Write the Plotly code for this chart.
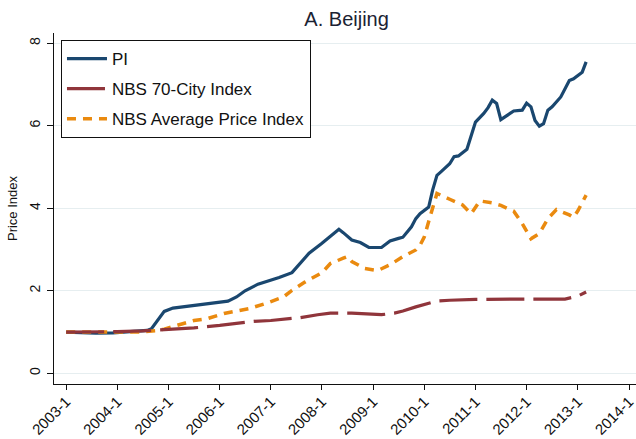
import plotly.graph_objects as go

# ---- data ----
pi_dates = ["2003-01", "2003-04", "2003-08", "2003-12", "2004-03", "2004-06", "2004-08", "2004-09",
            "2004-10", "2004-11", "2004-12", "2005-02", "2005-05", "2005-08", "2005-11", "2006-03",
            "2006-05", "2006-07", "2006-10", "2007-01", "2007-03", "2007-06", "2007-08", "2007-10",
            "2008-01", "2008-03", "2008-05", "2008-06", "2008-08", "2008-10", "2008-12", "2009-03",
            "2009-05", "2009-07", "2009-08", "2009-10", "2009-11", "2009-12", "2010-02", "2010-03",
            "2010-04", "2010-05", "2010-07", "2010-08", "2010-09", "2010-11", "2010-12", "2011-01",
            "2011-03", "2011-04", "2011-05", "2011-06", "2011-07", "2011-10", "2011-12", "2012-01",
            "2012-02", "2012-03", "2012-04", "2012-05", "2012-06", "2012-07", "2012-09", "2012-10",
            "2012-11", "2012-12", "2013-02", "2013-03"]
pi_values = [1.00, 0.98, 0.97, 0.98, 1.00, 1.02, 1.04, 1.08,
             1.22, 1.37, 1.50, 1.58, 1.62, 1.67, 1.70, 1.75,
             1.85, 2.00, 2.16, 2.25, 2.32, 2.44, 2.67, 2.91,
             3.15, 3.31, 3.49, 3.41, 3.23, 3.17, 3.05, 3.05,
             3.21, 3.27, 3.30, 3.55, 3.75, 3.87, 4.03, 4.44,
             4.80, 4.89, 5.08, 5.25, 5.27, 5.43, 5.73, 6.09,
             6.30, 6.44, 6.62, 6.54, 6.15, 6.36, 6.38, 6.55,
             6.46, 6.13, 5.99, 6.05, 6.38, 6.46, 6.70, 6.88,
             7.10, 7.14, 7.30, 7.55]

nbs70_dates = ["2003-01", "2003-07", "2004-01", "2004-07", "2005-01", "2005-07", "2006-01", "2006-06",
               "2006-09", "2007-01", "2007-05", "2007-08", "2007-12", "2008-03", "2008-08", "2009-03",
               "2009-06", "2009-08", "2009-11", "2010-02", "2010-04", "2010-07", "2011-01", "2012-01",
               "2012-10", "2013-01", "2013-03"]
nbs70_values = [1.00, 1.00, 1.01, 1.03, 1.06, 1.10, 1.16, 1.22,
                1.26, 1.28, 1.31, 1.35, 1.42, 1.46, 1.46, 1.42,
                1.46, 1.51, 1.61, 1.69, 1.75, 1.77, 1.79, 1.80,
                1.80, 1.87, 1.97]

avg_dates = ["2003-01", "2004-06", "2004-10", "2004-12", "2005-03", "2005-07", "2005-10", "2006-02",
             "2006-05", "2006-08", "2006-12", "2007-04", "2007-06", "2007-09", "2008-01", "2008-03",
             "2008-06", "2008-07", "2008-08", "2008-11", "2009-02", "2009-05", "2009-08", "2009-11",
             "2009-12", "2010-01", "2010-02", "2010-03", "2010-04", "2010-07", "2010-10", "2010-12",
             "2011-02", "2011-05", "2011-07", "2011-10", "2011-12", "2012-02", "2012-04", "2012-06",
             "2012-08", "2012-11", "2012-12", "2013-01", "2013-03"]
avg_values = [1.00, 1.00, 1.03, 1.07, 1.16, 1.28, 1.32, 1.45,
              1.51, 1.57, 1.70, 1.85, 2.01, 2.21, 2.44, 2.66,
              2.79, 2.83, 2.71, 2.54, 2.49, 2.63, 2.83, 2.99,
              3.10, 3.31, 3.68, 4.04, 4.36, 4.22, 4.08, 3.87,
              4.18, 4.13, 4.07, 3.93, 3.63, 3.26, 3.39, 3.75,
              3.97, 3.84, 3.78, 3.94, 4.32]

x_tick_dates = ["2003-01-01", "2004-01-01", "2005-01-01", "2006-01-01", "2007-01-01", "2008-01-01",
                "2009-01-01", "2010-01-01", "2011-01-01", "2012-01-01", "2013-01-01", "2014-01-01"]
x_tick_labels = ["2003-1", "2004-1", "2005-1", "2006-1", "2007-1", "2008-1",
                 "2009-1", "2010-1", "2011-1", "2012-1", "2013-1", "2014-1"]
y_ticks = [0, 2, 4, 6, 8]

FONT = "Liberation Sans, Arial, sans-serif"

fig = go.Figure()
fig.add_trace(go.Scatter(x=pi_dates, y=pi_values, mode="lines", name="PI",
                         legendgroup="g1", legendrank=1,
                         line=dict(color="#1a476f", width=3.2)))
fig.add_trace(go.Scatter(x=avg_dates, y=avg_values, mode="lines", name="NBS Average Price Index",
                         legendgroup="g3", legendrank=3,
                         line=dict(color="#ea8a0f", width=3.5, dash="9px,7px")))
fig.add_trace(go.Scatter(x=nbs70_dates, y=nbs70_values, mode="lines", name="NBS 70-City Index",
                         legendgroup="g2", legendrank=2,
                         line=dict(color="#90353b", width=3.2, dash="38px,9px")))

fig.update_layout(
    width=636, height=439, autosize=False,
    margin=dict(l=54, r=0, t=33, b=55, autoexpand=False),
    paper_bgcolor="white", plot_bgcolor="white",
    font=dict(family=FONT, color="#111111"),
    title=dict(text="A. Beijing", x=0.545, xanchor="center", y=0.957, yanchor="middle",
               font=dict(size=20, color="#1b2233", family=FONT)),
    legend=dict(x=0.012, y=0.98, xanchor="left", yanchor="top",
                bordercolor="#111111", borderwidth=1, bgcolor="white",
                font=dict(size=17, family=FONT, color="#111111"),
                traceorder="grouped", tracegroupgap=5, itemwidth=40),
    xaxis=dict(type="date", range=["2002-10-06", "2014-02-20"], automargin=False,
               tickmode="array", tickvals=x_tick_dates, ticktext=x_tick_labels,
               tickangle=-45, ticks="outside", ticklen=5, tickcolor="#111111", tickwidth=1,
               ticklabelstandoff=-3, ticklabeloverflow="allow",
               showline=True, linecolor="#111111", linewidth=1, showgrid=False, zeroline=False,
               tickfont=dict(size=15, family=FONT, color="#111111")),
    yaxis=dict(range=[-0.26, 8.25], tickmode="array", tickvals=y_ticks, automargin=False,
               tickangle=-90, ticks="outside", ticklen=6, tickcolor="#111111", tickwidth=1,
               ticklabelstandoff=1,
               showline=True, linecolor="#111111", linewidth=1,
               showgrid=True, gridcolor="#e6eef0", gridwidth=1, zeroline=False,
               tickfont=dict(size=14, family=FONT, color="#111111"),
               title=dict(text="Price Index", font=dict(size=13, family=FONT, color="#111111"),
                          standoff=6)),
)

# remove the default page margin so the 636x439 figure fills the window exactly
fig.write_html("out.html", config={"displayModeBar": False},
               post_script="document.body.style.margin='0';document.body.style.overflow='hidden';")
